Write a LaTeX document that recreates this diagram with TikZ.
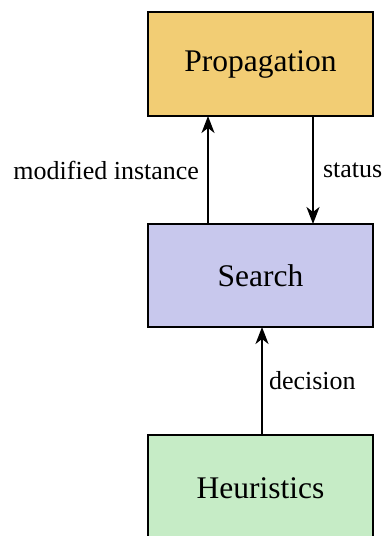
\documentclass[tikz,border=0pt]{standalone}
\usepackage{fontspec}
\setmainfont{Liberation Serif}
\usetikzlibrary{arrows.meta}
\definecolor{propc}{RGB}{242,205,116}
\definecolor{searchc}{RGB}{200,200,237}
\definecolor{heurc}{RGB}{198,236,198}
\begin{document}
\begin{tikzpicture}[x=1pt,y=1pt,
  blockbox/.style={draw=black,line width=2pt,minimum width=225pt,minimum height=104pt,inner sep=0pt,outer sep=0pt,font=\fontsize{31.5}{36}\selectfont},
  arr/.style={line width=2pt,-{Stealth[length=17pt,width=13pt,inset=5pt]}},
  lbl/.style={font=\fontsize{26}{30}\selectfont,inner sep=0pt}]
\useasboundingbox (0,0) rectangle (382,-536);
\clip (0,0) rectangle (382,-536);
\node[blockbox,fill=propc] (p) at (260.5,-64) {Propagation};
\node[blockbox,fill=searchc,minimum height=103pt] (s) at (260.5,-275.5) {Search};
\node[blockbox,fill=heurc,minimum height=106pt] (h) at (260.5,-488) {Heuristics};
\draw[arr] ([xshift=-52.5pt]s.north) -- node[lbl,left=8pt] {modified instance} ([xshift=-52.5pt]p.south);
\draw[arr] ([xshift=52.5pt]p.south) -- node[lbl,right=9pt] {status} ([xshift=52.5pt]s.north);
\draw[arr] ([xshift=1.5pt]h.north) -- node[lbl,right=6pt] {decision} ([xshift=1.5pt]s.south);
\end{tikzpicture}
\end{document}
